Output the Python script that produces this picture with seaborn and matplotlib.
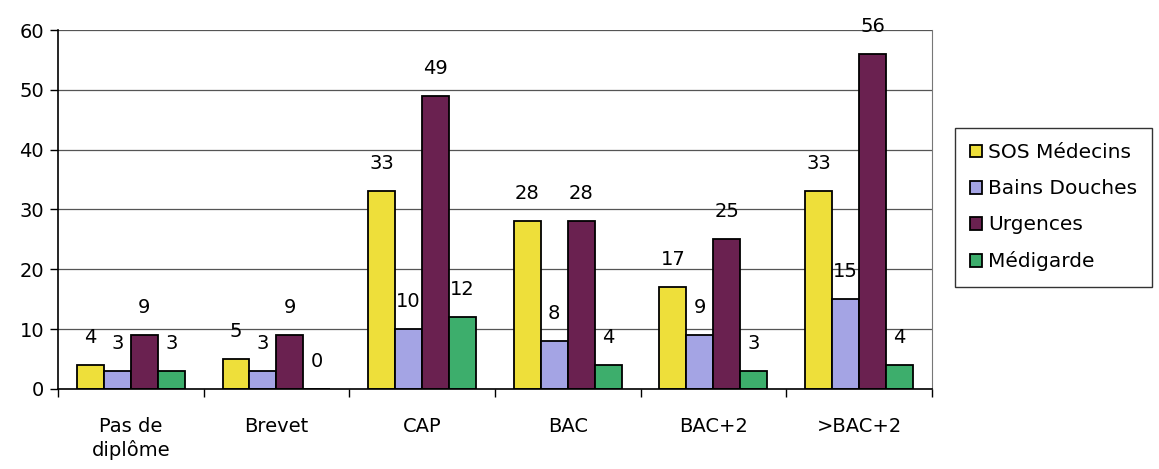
import numpy as np
import pandas as pd
import seaborn as sns
import matplotlib.pyplot as plt
from matplotlib.ticker import FixedLocator

categories = ["Pas de\ndiplôme", "Brevet", "CAP", "BAC", "BAC+2", ">BAC+2"]
series_names = ["SOS Médecins", "Bains Douches", "Urgences", "Médigarde"]
sos = [4, 5, 33, 28, 17, 33]
bains = [3, 3, 10, 8, 9, 15]
urgences = [9, 9, 49, 28, 25, 56]
medigarde = [3, 0, 12, 4, 3, 4]
colors = ["#EEDF3A", "#A4A4E4", "#6A2150", "#3DAE6C"]

df = pd.DataFrame({
    "cat": categories * 4,
    "serie": np.repeat(series_names, len(categories)),
    "val": sos + bains + urgences + medigarde,
})

sns.set_style("white")
plt.rcParams["font.family"] = ["DejaVu Sans"]
plt.rcParams["text.color"] = "black"
plt.rcParams["xtick.color"] = "black"
plt.rcParams["ytick.color"] = "black"
FS = 14

fig = plt.figure(figsize=(11.59, 4.69), dpi=100)
ax = fig.add_axes([0.050, 0.171, 0.754, 0.765])

sns.barplot(data=df, x="cat", y="val", hue="serie", palette=colors, saturation=1,
            width=0.74, edgecolor="black", linewidth=1.3, ax=ax, legend=True)

for cont in ax.containers:
    ax.bar_label(cont, padding=13, fontsize=FS, color="black")

ax.set_ylim(0, 60)
ax.set_xlim(-0.5, len(categories) - 0.5)
ax.set_yticks(range(0, 61, 10))
ax.yaxis.grid(True, color="#555555", linewidth=0.9)
ax.set_axisbelow(True)
ax.set_xlabel("")
ax.set_ylabel("")
ax.tick_params(axis="both", labelsize=FS, labelcolor="black")
ax.tick_params(axis="x", length=0, pad=20)
ax.tick_params(axis="y", length=6, width=1, left=True, color="black", pad=4)
ax.xaxis.set_minor_locator(FixedLocator(np.arange(-0.5, len(categories), 1)))
ax.tick_params(axis="x", which="minor", length=6, width=1, bottom=True, color="black")
for t in ax.get_xticklabels():
    t.set_linespacing(1.25)

for s in ["left", "bottom"]:
    ax.spines[s].set_color("black")
    ax.spines[s].set_linewidth(1.2)
ax.spines["right"].set_color("#777777")
ax.spines["top"].set_visible(False)

handles, labels = ax.get_legend_handles_labels()
ax.get_legend().remove()
leg = fig.legend(handles, labels, loc="upper left", bbox_to_anchor=(0.824, 0.727),
                 fontsize=FS + 0.5, frameon=True, fancybox=False, edgecolor="black",
                 handlelength=0.6, handleheight=0.6, handletextpad=0.3,
                 labelspacing=0.85, borderpad=0.75, borderaxespad=0)
leg.get_frame().set_linewidth(1)

fig.savefig("out.png", dpi=100)
